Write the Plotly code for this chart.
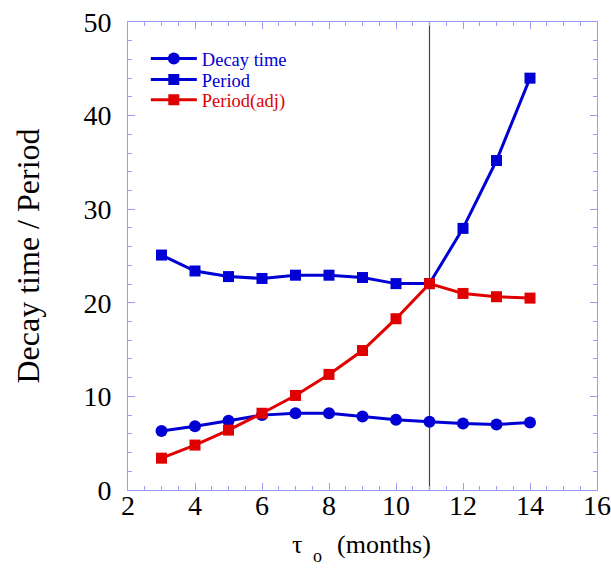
import plotly.graph_objects as go

tau = [3, 4, 5, 6, 7, 8, 9, 10, 11, 12, 13, 14]
decay_time = [6.3, 6.8, 7.4, 8.0, 8.2, 8.2, 7.85, 7.5, 7.3, 7.1, 7.0, 7.2]
period = [25.1, 23.4, 22.8, 22.6, 22.95, 22.95, 22.7, 22.05, 22.05, 27.95, 35.2, 44.0]
period_adj = [3.4, 4.8, 6.4, 8.2, 10.1, 12.35, 14.9, 18.3, 22.05, 21.0, 20.65, 20.5]
vline_x = 11

BLUE = "#0000d4"
RED = "#e00000"
FRAME = "#9a9aff"
FONT = "Liberation Serif"

fig = go.Figure()
fig.add_trace(go.Scatter(x=tau, y=decay_time, mode="lines+markers",
                         name='<span style="color:#0000d4">Decay time</span>',
                         legend="legend",
                         line=dict(color=BLUE, width=3),
                         marker=dict(symbol="circle", size=12, color=BLUE)))
fig.add_trace(go.Scatter(x=tau, y=period, mode="lines+markers",
                         name='<span style="color:#0000d4">Period</span>',
                         legend="legend2",
                         line=dict(color=BLUE, width=3),
                         marker=dict(symbol="square", size=11, color=BLUE)))
fig.add_trace(go.Scatter(x=tau, y=period_adj, mode="lines+markers",
                         name='<span style="color:#e00000">Period(adj)</span>',
                         legend="legend3",
                         line=dict(color=RED, width=3),
                         marker=dict(symbol="square", size=11, color=RED)))

fig.add_shape(type="line", x0=vline_x, x1=vline_x, y0=0, y1=1, yref="paper",
              line=dict(color="#444444", width=1.2), layer="below")

axis_common = dict(showgrid=False, zeroline=False, showline=True, linecolor=FRAME,
                   linewidth=1, mirror="allticks", ticks="inside", tickcolor=FRAME,
                   ticklen=7, tickwidth=1, automargin=False,
                   tickfont=dict(family=FONT, size=28, color="black"))

fig.update_xaxes(range=[2, 16], dtick=2, tick0=2, ticklabelstandoff=-10,
                 minor=dict(dtick=0.5, ticks="inside", ticklen=4, tickcolor=FRAME),
                 **axis_common)
fig.update_yaxes(range=[0, 50], dtick=10, tick0=0, ticklabelstandoff=10,
                 minor=dict(dtick=2, ticks="inside", ticklen=4, tickcolor=FRAME),
                 title=dict(text="Decay time / Period",
                            font=dict(family=FONT, size=32, color="black"), standoff=34),
                 **axis_common)

title_font = dict(family=FONT, size=26, color="black")
fig.add_annotation(text="τ", x=0.360, y=-0.1175, xref="paper", yref="paper",
                   showarrow=False, font=title_font, xanchor="center", yanchor="middle")
fig.add_annotation(text="(months)", x=0.545, y=-0.1175, xref="paper", yref="paper",
                   showarrow=False, font=title_font, xanchor="center", yanchor="middle")
fig.add_annotation(text="o", x=0.405, y=-0.141, xref="paper", yref="paper",
                   showarrow=False, font=dict(family=FONT, size=18, color="black"),
                   xanchor="center", yanchor="middle")

leg_common = dict(x=0.038, xanchor="left", yanchor="middle",
                  bgcolor="rgba(0,0,0,0)", itemwidth=46,
                  font=dict(family=FONT, size=18.5))
fig.update_layout(width=611, height=568,
                  margin=dict(l=128, r=14, t=22, b=78),
                  plot_bgcolor="white", paper_bgcolor="white",
                  showlegend=True,
                  legend=dict(y=0.921, **leg_common),
                  legend2=dict(y=0.876, **leg_common),
                  legend3=dict(y=0.833, **leg_common))

fig.write_html("out.html")
